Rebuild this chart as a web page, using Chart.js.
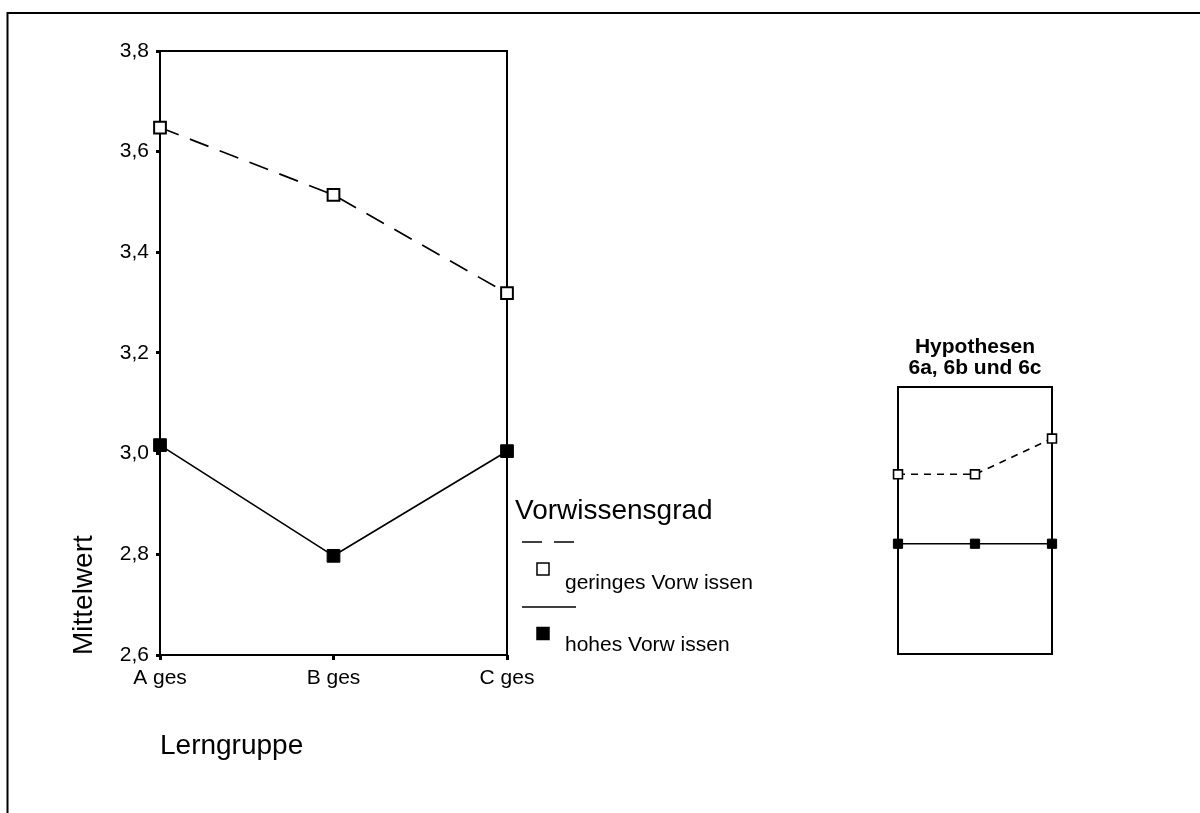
<!DOCTYPE html>
<html><head><meta charset="utf-8">
<script src="https://cdn.jsdelivr.net/npm/chart.js@4.4.1/dist/chart.umd.min.js"></script>
<style>html,body{margin:0;padding:0;background:#fff;overflow:hidden}
canvas{position:absolute;left:0;top:0}</style></head>
<body>
<canvas id="main" width="1200" height="813"></canvas>
<canvas id="inset" width="1200" height="813"></canvas>
<script>
// ---- data ----
const categories = ['A ges', 'B ges', 'C ges'];
const geringes = [3.648, 3.514, 3.319];
const hohes = [3.017, 2.797, 3.005];
const yTicks = [2.6, 2.8, 3.0, 3.2, 3.4, 3.6, 3.8];
const seriesNames = ['geringes Vorw issen', 'hohes Vorw issen'];
const legendTitle = 'Vorwissensgrad';
const xTitle = 'Lerngruppe';
const yTitle = 'Mittelwert';
const insetCategories = ['6a', '6b', '6c'];
const insetGeringes = [67.3, 67.3, 80.7];
const insetHohes = [41.3, 41.3, 41.3];
const insetTitle = ['Hypothesen', '6a, 6b und 6c'];

Chart.defaults.font.family = "'Liberation Sans', Arial, sans-serif";
Chart.defaults.color = '#000';

const pageFrame = {
  id: 'pageFrame',
  beforeDraw(chart) {
    const ctx = chart.ctx;
    ctx.save();
    ctx.strokeStyle = '#000'; ctx.lineWidth = 2;
    ctx.beginPath(); ctx.moveTo(7.5, 813); ctx.lineTo(7.5, 13); ctx.lineTo(1200, 13); ctx.stroke();
    ctx.restore();
  }
};
const plotFrame = {
  id: 'plotFrame',
  beforeDatasetsDraw(chart) {
    const {ctx, chartArea: a} = chart;
    ctx.save();
    ctx.strokeStyle = '#000'; ctx.lineWidth = 2;
    ctx.strokeRect(a.left, a.top, a.right - a.left, a.bottom - a.top);
    ctx.restore();
  }
};
const customLegend = {
  id: 'customLegend',
  afterDraw(chart) {
    const ctx = chart.ctx;
    const ds = chart.data.datasets;
    ctx.save();
    ctx.fillStyle = '#000';
    ctx.textBaseline = 'alphabetic';
    ctx.textAlign = 'left';
    ctx.font = "28px 'Liberation Sans', Arial, sans-serif";
    ctx.fillText(legendTitle, 515, 519);
    const rows = [{lineY: 542, markY: 569, textY: 589}, {lineY: 607, markY: 633.5, textY: 651}];
    ds.forEach((d, i) => {
      const r = rows[i];
      ctx.strokeStyle = d.borderColor;
      ctx.lineWidth = 1.6;
      ctx.setLineDash(d.borderDash || []);
      ctx.beginPath(); ctx.moveTo(522, r.lineY); ctx.lineTo(576, r.lineY); ctx.stroke();
      ctx.setLineDash([]);
      ctx.fillStyle = d.pointBackgroundColor;
      ctx.strokeStyle = d.pointBorderColor;
      ctx.lineWidth = 1.5;
      ctx.fillRect(537, r.markY - 6, 12, 12);
      ctx.strokeRect(537, r.markY - 6, 12, 12);
      ctx.fillStyle = '#000';
      ctx.font = "21px 'Liberation Sans', Arial, sans-serif";
      ctx.fillText(d.label, 565, r.textY);
    });
    ctx.restore();
  }
};

new Chart(document.getElementById('main'), {
  type: 'line',
  data: {
    labels: categories,
    datasets: [
      {label: seriesNames[0], data: geringes, borderColor: '#000', borderWidth: 1.7, borderDash: [20, 12],
       pointStyle: 'rect', pointRadius: 8.3, pointBackgroundColor: '#fff', pointBorderColor: '#000',
       pointBorderWidth: 2, tension: 0, clip: false, fill: false},
      {label: seriesNames[1], data: hohes, borderColor: '#000', borderWidth: 1.7,
       pointStyle: 'rect', pointRadius: 9, pointBackgroundColor: '#000', pointBorderColor: '#000',
       pointBorderWidth: 1, tension: 0, clip: false, fill: false}
    ]
  },
  options: {
    responsive: false, animation: false, events: [], devicePixelRatio: 1,
    layout: {padding: {left: 0, top: 51, right: 693, bottom: 38}},
    plugins: {legend: {display: false}, tooltip: {enabled: false}},
    scales: {
      x: {
        type: 'category', offset: false,
        border: {display: false},
        grid: {display: true, drawOnChartArea: false, drawTicks: true, tickLength: 5, tickWidth: 3, tickColor: '#000'},
        ticks: {font: {size: 21}, padding: 6, maxRotation: 0, autoSkip: false},
        title: {display: true, text: xTitle, align: 'start', font: {size: 28}, padding: {top: 0, bottom: 12}},
        afterFit(s) { s.height = 120; }
      },
      y: {
        type: 'linear', min: 2.6, max: 3.8,
        afterBuildTicks(s) { s.ticks = yTicks.map(v => ({value: v})); },
        border: {display: false},
        grid: {display: true, drawOnChartArea: false, drawTicks: true, tickLength: 4, tickWidth: 3, tickColor: '#000'},
        ticks: {font: {size: 21}, padding: 7, callback: v => Number(v).toFixed(1).replace('.', ',')},
        title: {display: true, text: yTitle, align: 'start', font: {size: 28}, padding: {top: 67, bottom: 0}},
        afterFit(s) { s.width = 160; }
      }
    }
  },
  plugins: [pageFrame, plotFrame, customLegend]
});

new Chart(document.getElementById('inset'), {
  type: 'line',
  data: {
    labels: insetCategories,
    datasets: [
      {label: seriesNames[0], data: insetGeringes, borderColor: '#000', borderWidth: 1.6, borderDash: [7, 6],
       pointStyle: 'rect', pointRadius: 6.3, pointBackgroundColor: '#fff', pointBorderColor: '#000',
       pointBorderWidth: 1.6, tension: 0, clip: false, fill: false},
      {label: seriesNames[1], data: insetHohes, borderColor: '#000', borderWidth: 1.6,
       pointStyle: 'rect', pointRadius: 6.5, pointBackgroundColor: '#000', pointBorderColor: '#000',
       pointBorderWidth: 1, tension: 0, clip: false, fill: false}
    ]
  },
  options: {
    responsive: false, animation: false, events: [], devicePixelRatio: 1,
    layout: {padding: {left: 898, top: 331, right: 148, bottom: 159}},
    plugins: {
      legend: {display: false}, tooltip: {enabled: false},
      title: {display: true, text: insetTitle, font: {size: 21, weight: 'bold', lineHeight: 1.0},
              padding: {top: 6, bottom: 8}, color: '#000'}
    },
    scales: {
      x: {type: 'category', offset: false, display: false},
      y: {type: 'linear', min: 0, max: 100, display: false}
    }
  },
  plugins: [plotFrame]
});
</script>
</body></html>
